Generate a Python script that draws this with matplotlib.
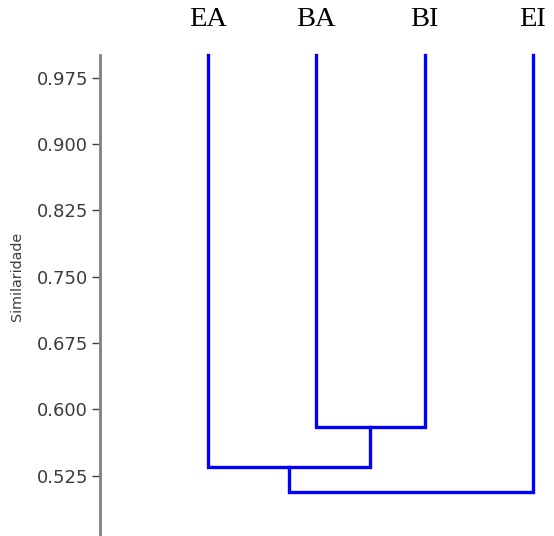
import numpy as np
import matplotlib
matplotlib.use("Agg")
import matplotlib.pyplot as plt

# leaves in dendrogram order and the merge steps (child a, child b, similarity)
leaves = ["EA", "BA", "BI", "EI"]
merges = [
    ("BA", "BI", 0.580),
    ("EA", "BA+BI", 0.535),
    ("EA+BA+BI", "EI", 0.507),
]
leaf_top = 1.0
yticks = [0.525, 0.600, 0.675, 0.750, 0.825, 0.900, 0.975]

line_color = "#0000ff"
axis_color = "#808080"
text_color = "#3c3c3c"

fig = plt.figure(figsize=(5.54, 5.36), dpi=100)
ax = fig.add_axes([100 / 554, 0.0, 454 / 554, 1 - 55.5 / 536])

# position and height of each node, starting from the leaves
xpos = {name: i + 1 for i, name in enumerate(leaves)}
ypos = {name: leaf_top for name in leaves}

for a, b, h in merges:
    xa, xb = xpos[a], xpos[b]
    ax.plot([xa, xa, xb, xb], [ypos[a], h, h, ypos[b]],
            color=line_color, lw=2.4, solid_capstyle="projecting",
            solid_joinstyle="miter", clip_on=False)
    node = a + "+" + b
    xpos[node] = (xa + xb) / 2
    ypos[node] = h

ymin, ymax = 0.457, 1.0
ax.set_xlim(1 - 108 / 108.4, 4 + 21 / 108.4)
ax.set_ylim(ymin, ymax)

# leaf names along the top
ax.xaxis.tick_top()
ax.set_xticks(range(1, len(leaves) + 1))
ax.set_xticklabels(leaves, fontfamily="Liberation Serif", fontsize=20.5,
                   color="black")
ax.tick_params(axis="x", length=0, pad=17)

ax.set_yticks(yticks)
ax.set_yticklabels([f"{v:.3f}" for v in yticks])
ax.tick_params(axis="y", length=6, width=1.0, color="#404040",
               labelsize=13, labelcolor=text_color, pad=2.5)

for side in ["top", "right", "bottom"]:
    ax.spines[side].set_visible(False)
ax.spines["left"].set_color(axis_color)
ax.spines["left"].set_linewidth(2.0)

ax.set_ylabel("Similaridade", fontsize=10.3, color=text_color)
ax.yaxis.set_label_coords(-0.168, (0.750 - ymin) / (ymax - ymin))

fig.savefig("out.png", dpi=100)
